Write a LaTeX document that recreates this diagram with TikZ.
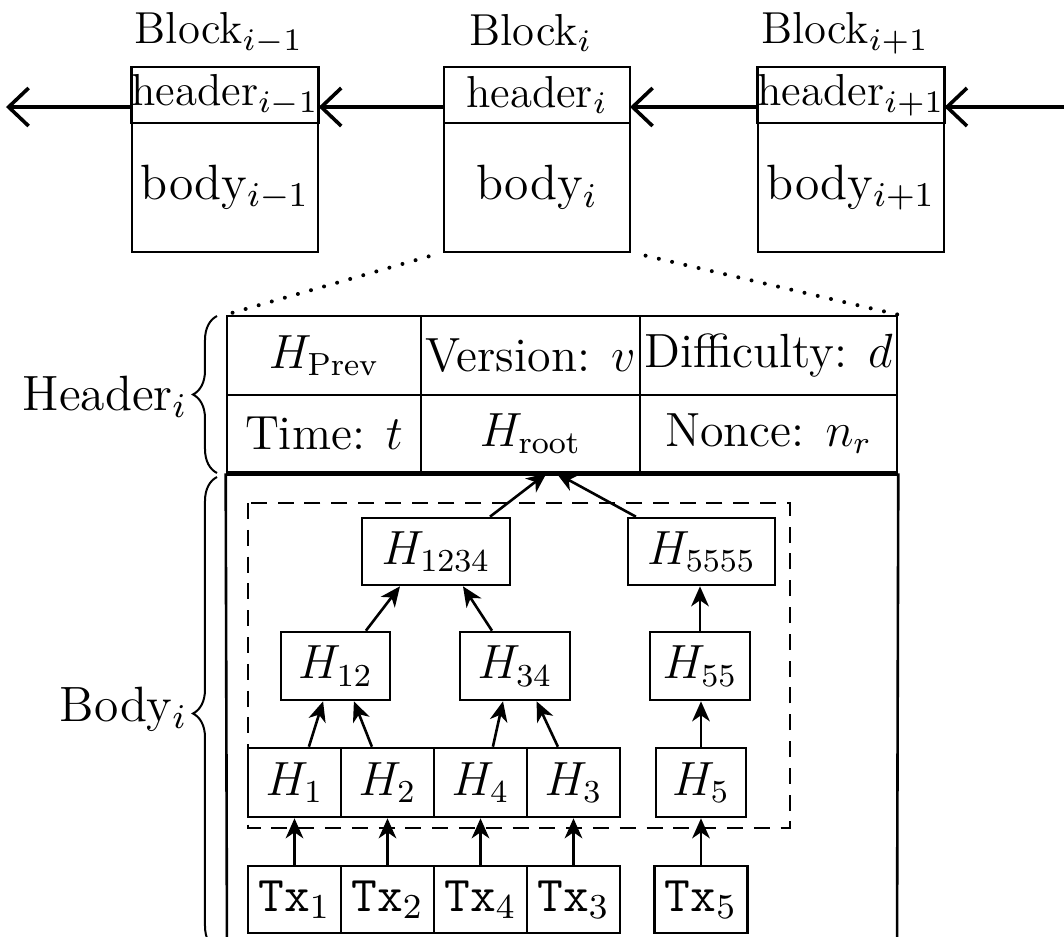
\RequirePackage{fix-cm}
\documentclass[tikz,border=0pt]{standalone}
\usepackage{fontspec}
\usetikzlibrary{arrows.meta,decorations.pathreplacing,calc}
\begin{document}
\begin{tikzpicture}[x=0.25pt,y=-0.25pt,
  blk/.style={draw,line width=0.65pt,inner sep=0pt,outer sep=0pt,minimum width=46.5pt},
  hdr/.style={blk,minimum height=14pt,font=\fontsize{11.2}{13}\selectfont},
  bdy/.style={blk,minimum height=32.25pt,font=\fontsize{12.4}{14}\selectfont},
  lbl/.style={inner sep=0pt,font=\fontsize{11.2}{13}\selectfont},
  side/.style={inner sep=0pt,font=\fontsize{12.4}{14}\selectfont},
  chain/.style={line width=0.9pt,-{Straight Barb[length=5pt,width=9.5pt,line width=0.9pt]}},
  cell/.style={draw,line width=0.65pt,inner sep=0pt,font=\fontsize{12}{14}\selectfont},
  tn/.style={draw,line width=0.65pt,inner sep=0pt,font=\fontsize{12}{14}\selectfont},
  hn/.style={tn,minimum width=23.25pt,minimum height=17.25pt},
  txn/.style={tn,minimum width=23.25pt,minimum height=16.75pt,font=\fontsize{12.5}{14}\selectfont},
  ta/.style={line width=0.65pt,-{Stealth[length=5pt,width=4.4pt,inset=1.5pt]}},
  dotline/.style={line width=1pt,line cap=round,dash pattern=on 0pt off 3.4pt},
  dashline/.style={line width=0.6pt,dash pattern=on 4pt off 2.7pt},
  bracestyle/.style={line width=0.5pt,decorate,decoration={brace,amplitude=6pt}}
]
\clip (0,0) rectangle (1064,936);

% top chain of blocks
\node[hdr] (hA) at (225,95) {header$_{i-1}$};
\node[bdy,anchor=north] (bA) at (hA.south) {body$_{i-1}$};
\node[hdr] (hB) at (537,95) {header$_{i}$};
\node[bdy,anchor=north] (bB) at (hB.south) {body$_{i}$};
\node[hdr] (hC) at (851,95) {header$_{i+1}$};
\node[bdy,anchor=north] (bC) at (hC.south) {body$_{i+1}$};

\node[lbl] (lA) at (219,33) {Block$_{i-1}$};
\node[lbl] (lB) at (531,33) {Block$_{i}$};
\node[lbl] (lC) at (845,33) {Block$_{i+1}$};

\coordinate (leftend) at (6,107);
\coordinate (rightend) at (1075,107);
\draw[chain] ([yshift=-3pt]hA.west) -- (leftend);
\draw[chain] ([yshift=-3pt]hB.west) -- ([yshift=-3pt]hA.east);
\draw[chain] ([yshift=-3pt]hC.west) -- ([yshift=-3pt]hB.east);
\draw[chain] (rightend) -- ([yshift=-3pt]hC.east);

% header table
\node[cell,minimum width=48.5pt,minimum height=19.75pt] (c11) at (324,355.5) {$H_{\mathrm{Prev}}$};
\node[cell,minimum width=54.75pt,minimum height=19.75pt] (c12) at (530.5,355.5) {Version: $v$};
\node[cell,minimum width=64.25pt,minimum height=19.75pt] (c13) at (768.5,355.5) {Difficulty: $d$};
\node[cell,minimum width=48.5pt,minimum height=19.25pt] (c21) at (324,433.5) {Time: $t$};
\node[cell,minimum width=54.75pt,minimum height=19.25pt] (c22) at (530.5,433.5) {$H_{\mathrm{root}}$};
\node[cell,minimum width=64.25pt,minimum height=19.25pt] (c23) at (768.5,433.5) {Nonce: $n_r$};
\draw[line width=1.1pt] (c21.south west) -- (c23.south east);

% body frame
\coordinate (fl) at (227,960);
\coordinate (fr) at (897,960);
\draw[line width=0.65pt] (c21.south west) -- (fl);
\draw[line width=0.65pt] (c23.south east) -- (fr);

% zoom lines
\draw[dotline,shorten <=4pt] (bB.south west) -- (c11.north west);
\draw[dotline,shorten <=4pt] (bB.south east) -- (c13.north east);

% braces
\draw[bracestyle] (217,473) -- (217,316);
\node[side,anchor=east] (hl) at (188,397) {Header$_{i}$};
\draw[bracestyle] (217,950) -- (217,477);
\node[side,anchor=east] (bl) at (188,709) {Body$_{i}$};

% dashed merkle frame
\draw[dashline] (248,503) rectangle (790,828);

% merkle tree
\node[tn,minimum width=37pt,minimum height=16.75pt] (H1234) at (436,551.5) {$H_{1234}$};
\node[tn,minimum width=36.75pt,minimum height=16.75pt] (H5555) at (701.5,551.5) {$H_{5555}$};
\node[tn,minimum width=27.25pt,minimum height=17pt] (H12) at (335.5,666) {$H_{12}$};
\node[tn,minimum width=27.5pt,minimum height=17pt] (H34) at (515,666) {$H_{34}$};
\node[tn,minimum width=25pt,minimum height=17pt] (H55) at (700,666) {$H_{55}$};

\node[hn] (H1) at (294.5,782.5) {$H_{1}$};
\node[hn] (H2) at (387.5,782.5) {$H_{2}$};
\node[hn] (H4) at (480.5,782.5) {$H_{4}$};
\node[hn] (H3) at (573.5,782.5) {$H_{3}$};
\node[hn,minimum width=22.5pt] (H5) at (701,782.5) {$H_{5}$};

\node[txn] (T1) at (294.5,899.5) {\texttt{Tx}$_1$};
\node[txn] (T2) at (387.5,899.5) {\texttt{Tx}$_2$};
\node[txn] (T4) at (480.5,899.5) {\texttt{Tx}$_4$};
\node[txn] (T3) at (573.5,899.5) {\texttt{Tx}$_3$};
\node[txn] (T5) at (701,899.5) {\texttt{Tx}$_5$};

\foreach \k in {1,2,4,3,5}{
  \draw[ta] (T\k.north) -- (H\k.south);
}
\draw[ta] ([xshift=3.6pt]H1.north) -- ([xshift=-3.1pt]H12.south);
\draw[ta] ([xshift=-3.9pt]H2.north) -- ([xshift=4.6pt]H12.south);
\draw[ta] ([xshift=3.1pt]H4.north) -- ([xshift=-3.0pt]H34.south);
\draw[ta] ([xshift=-3.9pt]H3.north) -- ([xshift=5.4pt]H34.south);
\draw[ta] (H5.north) -- (H5.north |- H55.south);
\draw[ta] ([xshift=7.6pt]H12.north) -- ([xshift=-9pt]H1234.south);
\draw[ta] ([xshift=-5.75pt]H34.north) -- ([xshift=6.75pt]H1234.south);
\draw[ta] (H55.north) -- (H55.north |- H5555.south);
\draw[ta] ([xshift=13.5pt]H1234.north) -- ([xshift=4pt]c22.south);
\draw[ta] ([xshift=-16.4pt]H5555.north) -- ([xshift=6.5pt]c22.south);
\end{tikzpicture}
\end{document}
